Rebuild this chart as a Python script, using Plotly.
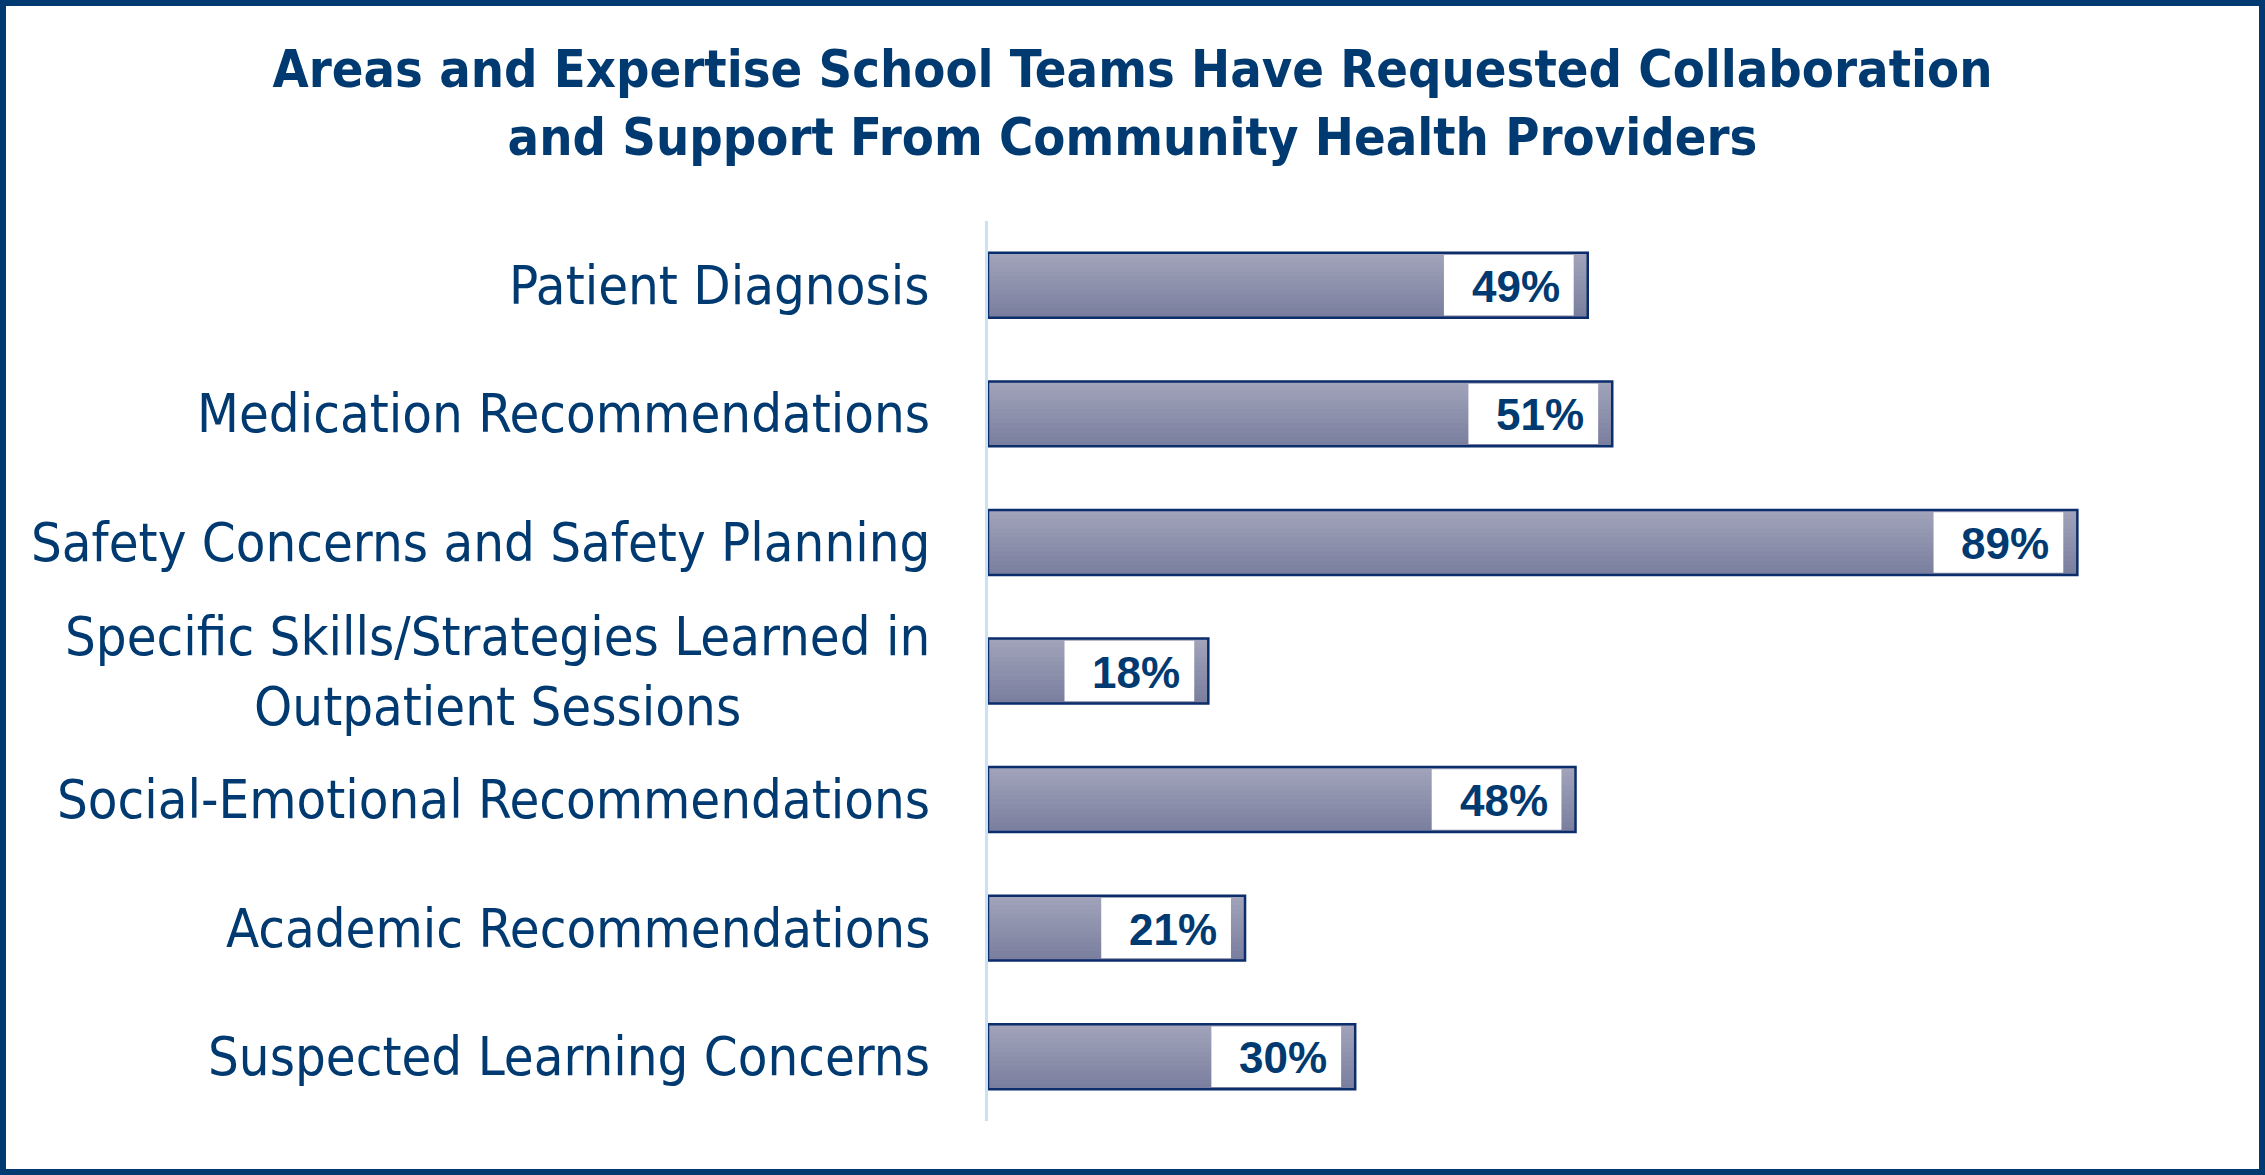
import plotly.graph_objects as go

# data
categories = [
    "Patient Diagnosis",
    "Medication Recommendations",
    "Safety Concerns and Safety Planning",
    "Specific Skills/Strategies Learned in<br>Outpatient Sessions",
    "Social-Emotional Recommendations",
    "Academic Recommendations",
    "Suspected Learning Concerns",
]
values = [49, 51, 89, 18, 48, 21, 30]
labels = ["49%", "51%", "89%", "18%", "48%", "21%", "30%"]

W, H = 2265, 1175
L, R, T, B = 988, 53, 221, 54
NAVY = "#003a70"
EDGE = "#0b2d6b"
TOP_C = (160, 163, 185)
BOT_C = (122, 127, 159)

BAR_W = 0.505
BOX_W = 10.6     # white label box width (x units)
BOX_GAP = 1.15   # gap between box and bar end (x units)

fig = go.Figure()

# gradient fill: each strip runs to the bar bottom, later ones cover earlier ones
n = 14
strip = BAR_W / n
for i in range(n):
    t = i / (n - 1)
    c = tuple(round(a + (b - a) * t) for a, b in zip(TOP_C, BOT_C))
    fig.add_trace(go.Bar(
        y=categories, x=values, orientation="h",
        width=BAR_W - i * strip, offset=-BAR_W / 2 + i * strip,
        marker=dict(color="rgb(%d,%d,%d)" % c, line=dict(width=0)),
        hoverinfo="skip", showlegend=False,
    ))

# white label boxes
fig.add_trace(go.Bar(
    y=categories, x=[BOX_W] * len(values), base=[v - BOX_GAP - BOX_W for v in values],
    orientation="h", width=0.47,
    marker=dict(color="white", line=dict(width=0)),
    hoverinfo="skip", showlegend=False,
))

# outline
fig.add_trace(go.Bar(
    y=categories, x=values, orientation="h", width=BAR_W,
    marker=dict(color="rgba(0,0,0,0)", line=dict(color=EDGE, width=2.5)),
    showlegend=False,
))

for cat, v, lab in zip(categories, values, labels):
    fig.add_annotation(x=v, y=cat, xref="x", yref="y", text="<b>%s</b>" % lab,
                       xanchor="right", yanchor="middle", xshift=-26, yshift=-1,
                       showarrow=False,
                       font=dict(family="Liberation Sans, Arial", size=44, color=NAVY))
    fig.add_annotation(x=0, y=cat, xref="x", yref="y", text=cat,
                       xanchor="right", yanchor="middle", xshift=-56, align="center",
                       showarrow=False,
                       font=dict(family="DejaVu Sans Condensed, DejaVu Sans", size=54, color=NAVY))

pw = W - L - R
ph = H - T - B
fig.add_shape(type="rect", xref="paper", yref="paper",
              x0=(-L + 3) / pw, x1=1 + (R - 3) / pw,
              y0=(-B + 3) / ph, y1=1 + (T - 3) / ph,
              line=dict(color=NAVY, width=6), fillcolor="rgba(0,0,0,0)")

fig.update_layout(
    width=W, height=H,
    margin=dict(l=L, r=R, t=T, b=B),
    barmode="overlay",
    plot_bgcolor="white", paper_bgcolor="white",
    title=dict(
        text="<b>Areas and Expertise School Teams Have Requested Collaboration<br>"
             "and Support From Community Health Providers</b>",
        x=0.5, xanchor="center", xref="container",
        y=1 - 87 / H, yanchor="middle", yref="container",
        font=dict(family="DejaVu Sans Condensed, DejaVu Sans", size=52, color=NAVY),
    ),
    xaxis=dict(range=[0, 100], visible=False, fixedrange=True),
    yaxis=dict(autorange="reversed", showticklabels=False, ticks="",
               showline=True, linecolor="#c8e1f7", linewidth=3,
               showgrid=False, zeroline=False),
)

fig.write_html("out.html", config={"displayModeBar": False},
               post_script="document.body.style.margin='0';")
